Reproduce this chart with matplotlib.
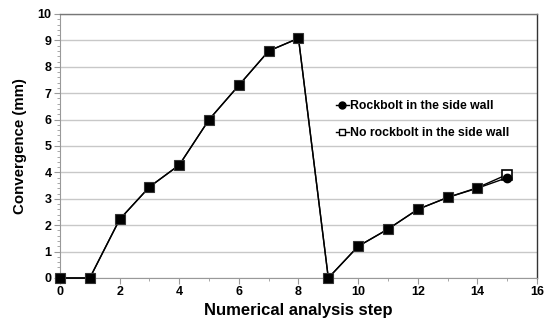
import matplotlib
matplotlib.use("Agg")
import matplotlib.pyplot as plt
import numpy as np
from matplotlib.ticker import MultipleLocator

steps = list(range(16))
rockbolt = [0, 0, 2.22, 3.45, 4.28, 6.0, 7.3, 8.6, 9.08, 0, 1.2, 1.85, 2.6, 3.05, 3.4, 3.8]
no_rockbolt = [0, 0, 2.22, 3.45, 4.28, 6.0, 7.3, 8.6, 9.08, 0, 1.2, 1.85, 2.6, 3.05, 3.42, 3.92]
label_rb = "Rockbolt in the side wall"
label_nrb = "No rockbolt in the side wall"

plt.rcParams['font.family'] = ['Liberation Sans', 'DejaVu Sans']
plt.rcParams['font.weight'] = 'bold'

fig = plt.figure(figsize=(5.47, 3.2), dpi=100)
ax = fig.add_axes([0.1097, 0.13125, 0.8720, 0.825])

x = np.array(steps)
rb = np.array(rockbolt)
nrb = np.array(no_rockbolt)
same = np.isclose(rb, nrb, atol=0.05)

ax.plot(x, nrb, color='black', lw=1.0, zorder=3, clip_on=False)
ax.plot(x, rb, color='black', lw=1.0, zorder=3, clip_on=False)
ax.plot(x[same], nrb[same], 's', ms=7.5, mfc='black', mec='#333333', mew=0.8, zorder=4, clip_on=False)
ax.plot(x[~same], nrb[~same], 's', ms=7.5, mfc='white', mec='black', mew=1.2, zorder=4, clip_on=False)
ax.plot(x[~same], rb[~same], 'o', ms=6, mfc='black', mec='black', zorder=5, clip_on=False)

# legend handles
h1, = ax.plot([], [], '-o', color='black', ms=5, lw=1.0, label=label_rb)
h2, = ax.plot([], [], '-s', color='black', mfc='white', ms=5, lw=1.0, label=label_nrb)
leg = ax.legend(handles=[h1, h2], loc='upper left', bbox_to_anchor=(0.555, 0.715),
                frameon=False, handlelength=1.1, handletextpad=0.1,
                labelspacing=1.2, prop={'weight': 'bold', 'size': 8.8})

ax.set_xlim(0, 16)
ax.set_ylim(0, 10)
ax.xaxis.set_major_locator(MultipleLocator(2))
ax.xaxis.set_minor_locator(MultipleLocator(1))
ax.yaxis.set_major_locator(MultipleLocator(1))
ax.yaxis.set_minor_locator(MultipleLocator(0.2))
ax.grid(axis='y', which='major', color='#c8c8c8', lw=1.0, zorder=0)
ax.set_axisbelow(True)

for s in ['left', 'bottom']:
    ax.spines[s].set_color('#999999')
    ax.spines[s].set_linewidth(0.8)
ax.spines['top'].set_color('#777777')
ax.spines['top'].set_linewidth(1.0)
ax.spines['right'].set_color('#333333')
ax.spines['right'].set_linewidth(1.0)

ax.tick_params(axis='both', which='major', length=4, color='#999999', labelsize=9, pad=2)
ax.tick_params(axis='both', which='minor', length=2, color='#999999')
for lab in ax.get_xticklabels() + ax.get_yticklabels():
    lab.set_fontweight('bold')

ax.set_xlabel('Numerical analysis step', fontsize=12, fontweight='bold', labelpad=3)
ax.set_ylabel('Convergence (mm)', fontsize=10.8, fontweight='bold', labelpad=8)

fig.savefig('out.png', dpi=100)
